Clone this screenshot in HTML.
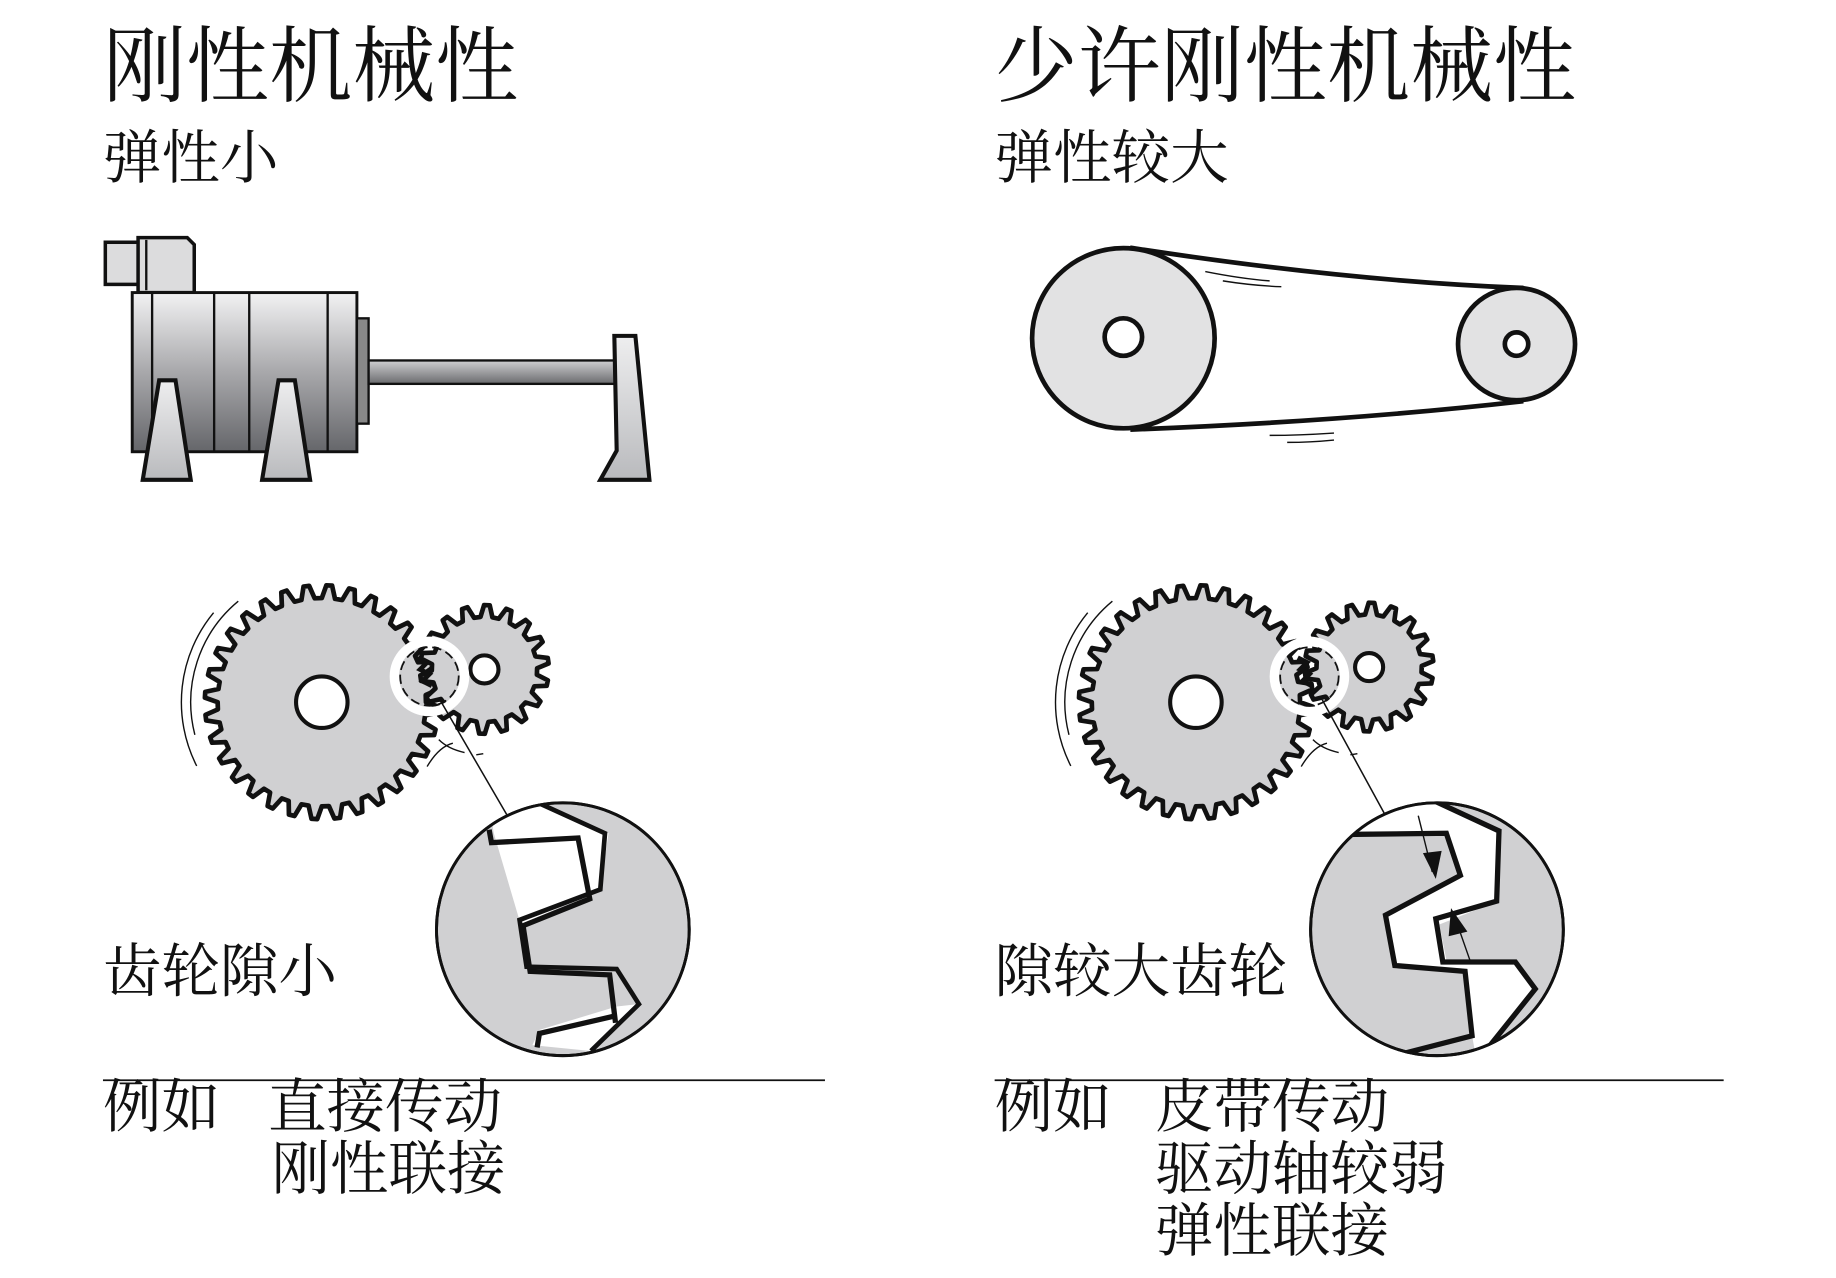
<!DOCTYPE html>
<html><head><meta charset="utf-8"><style>
html,body{margin:0;padding:0;background:#fff;}
svg{display:block;}
text{font-family:"Liberation Serif","Noto Serif CJK SC",serif;fill:#111;}
</style></head><body>
<svg id="s" width="1836" height="1278" viewBox="0 0 1569 1092" preserveAspectRatio="none" xmlns="http://www.w3.org/2000/svg">
<defs>
<linearGradient id="mg" x1="0" y1="0" x2="0" y2="1">
<stop offset="0" stop-color="#f2f2f3"/><stop offset="0.5" stop-color="#a8a8ab"/><stop offset="1" stop-color="#65666a"/></linearGradient>
<linearGradient id="fg" x1="0" y1="0" x2="0" y2="1">
<stop offset="0" stop-color="#eeeeef"/><stop offset="1" stop-color="#b9babd"/></linearGradient>
<linearGradient id="sg" x1="0" y1="0" x2="0" y2="1">
<stop offset="0" stop-color="#d0d0d2"/><stop offset="1" stop-color="#6a6b6e"/></linearGradient>
<clipPath id="cl"><circle cx="481" cy="794" r="107"/></clipPath>
<clipPath id="cr"><circle cx="1228" cy="794" r="107"/></clipPath>
</defs>
<text x="88" y="81" font-size="71">刚性机械性</text>
<text x="88" y="152" font-size="50">弹性小</text>
<text x="850" y="81" font-size="71">少许刚性机械性</text>
<text x="850" y="152" font-size="50">弹性较大</text>

<g stroke="#111" stroke-width="3">
<rect x="90" y="207" width="30" height="36" fill="#dcdcdd"/>
<path d="M118 203 H160 L166 209 V250 H118 Z" fill="#dcdcdd"/>
<line x1="125" y1="205" x2="125" y2="248" stroke-width="2"/>
<rect x="113" y="250" width="192" height="136" fill="url(#mg)" stroke-width="2.5"/>
<line x1="130" y1="250" x2="130" y2="386" stroke-width="2"/>
<line x1="183" y1="250" x2="183" y2="386" stroke-width="2"/>
<line x1="213" y1="250" x2="213" y2="386" stroke-width="2"/>
<line x1="280" y1="250" x2="280" y2="386" stroke-width="2"/>
<rect x="305" y="272" width="10" height="90" fill="#888" stroke-width="2"/>
<rect x="315" y="308" width="212" height="20" fill="url(#sg)" stroke-width="2"/>
<path d="M136 325 H150 L163 410 H122 Z" fill="url(#fg)" stroke-width="3.5"/>
<path d="M238 325 H252 L265 410 H224 Z" fill="url(#fg)" stroke-width="3.5"/>
<path d="M525 287 H543 L555 410 H513 L527 385 Z" fill="url(#fg)" stroke-width="3.5"/>
</g>

<g stroke="#111" stroke-width="4">
<path d="M968 212 Q1150 240 1300 246 L1300 343 Q1150 360 968 367 Z" fill="#fff"/>
<ellipse cx="960" cy="289" rx="78" ry="77" fill="#e2e2e3"/>
<circle cx="960" cy="288" r="16" fill="#fff"/>
<ellipse cx="1296" cy="294" rx="50" ry="48" fill="#e2e2e3"/>
<circle cx="1296" cy="294" r="10" fill="#fff"/>
</g>
<g stroke="#111" stroke-width="1.2" fill="none">
<path d="M1030 232 Q1060 238 1085 240"/><path d="M1045 240 Q1070 244 1095 245"/>
<path d="M1085 372 Q1110 372 1140 370"/><path d="M1100 378 Q1120 378 1140 376"/>
</g>

<g id="gears"></g>

<g>
<line x1="376" y1="598" x2="433" y2="696" stroke="#111" stroke-width="1.3"/>
<circle cx="481" cy="794" r="108" fill="#d0d0d2" stroke="#111" stroke-width="2.5"/>
<g clip-path="url(#cl)">
<path d="M420 700 L463 686 L520 712 L513 760 L445 790 L422 712 Z" fill="#fff"/>
<path d="M455 893 L461 880 L527 860 L545 858 L505 898 Z" fill="#fff"/>
<polyline points="418,709 420,720 494,716 504,768 447,791 453,830 521,833 526,874" fill="none" stroke="#111" stroke-width="4.5"/>
<polyline points="460,686 517,712 513,760 444,786 450,826 527,828 546,858 505,898" fill="none" stroke="#111" stroke-width="4"/>
<polyline points="459,895 461,883 526,868" fill="none" stroke="#111" stroke-width="4.5"/>
</g>
<circle cx="481" cy="794" r="108" fill="none" stroke="#111" stroke-width="2.5"/>
</g>

<g>
<line x1="1130" y1="598" x2="1183" y2="695" stroke="#111" stroke-width="1.3"/>
<circle cx="1228" cy="794" r="108" fill="#d0d0d2" stroke="#111" stroke-width="2.5"/>
<g clip-path="url(#cr)">
<path d="M1155 713 L1180 690 L1227 686 L1282 712 L1280 770 L1230 790 L1236 820 L1295 822 L1312 845 L1270 898 L1260 896 L1258 885 L1253 830 L1193 825 L1183 782 L1248 748 L1236 712 Z" fill="#fff"/>
<polyline points="1150,713 1236,712 1248,748 1184,782 1192,825 1252,830 1258,885 1200,900" fill="none" stroke="#111" stroke-width="4.5"/>
<polyline points="1225,684 1281,710 1279,770 1227,785 1233,822 1295,822 1312,845 1268,900" fill="none" stroke="#111" stroke-width="4.5"/>
</g>
<circle cx="1228" cy="794" r="108" fill="none" stroke="#111" stroke-width="2.5"/>
<line x1="1212" y1="697" x2="1224" y2="745" stroke="#111" stroke-width="1.2"/>
<path d="M1216 729 L1232 727 L1227 751 Z" fill="#111"/>
<line x1="1256" y1="820" x2="1242" y2="780" stroke="#111" stroke-width="1.2"/>
<path d="M1238 800 L1254 796 L1240 776 Z" fill="#111"/>
</g>

<text x="88" y="847" font-size="50">齿轮隙小</text>
<text x="850" y="847" font-size="50">隙较大齿轮</text>
<line x1="88" y1="923" x2="705" y2="923" stroke="#111" stroke-width="1.5"/>
<line x1="850" y1="923" x2="1473" y2="923" stroke="#111" stroke-width="1.5"/>
<text x="88" y="963" font-size="50">例如</text>
<text x="229" y="963" font-size="50">直接传动</text>
<text x="232" y="1016" font-size="50">刚性联接</text>
<text x="850" y="963" font-size="50">例如</text>
<text x="987" y="963" font-size="50">皮带传动</text>
<text x="987" y="1016" font-size="50">驱动轴较弱</text>
<text x="987" y="1069" font-size="50">弹性联接</text>
</svg>
<script>
(function(){
var NS="http://www.w3.org/2000/svg",g=document.getElementById("gears");
function gear(cx,cy,ro,ri,n,rot){
 var d="";
 for(var i=0;i<n;i++){
  var a0=rot+2*Math.PI*i/n,st=2*Math.PI/n;
  var pts=[[ri,a0],[ro,a0+st*0.2],[ro,a0+st*0.45],[ri,a0+st*0.65]];
  pts.forEach(function(p,k){var x=cx+p[0]*Math.cos(p[1]),y=cy+p[0]*Math.sin(p[1]);d+=(i==0&&k==0?"M":"L")+x.toFixed(1)+" "+y.toFixed(1);});
 }
 d+="Z";
 var p=document.createElementNS(NS,"path");p.setAttribute("d",d);p.setAttribute("fill","#d0d0d2");p.setAttribute("stroke","#111");p.setAttribute("stroke-width","4");p.setAttribute("stroke-linejoin","round");g.appendChild(p);
}
function el(t,a){var e=document.createElementNS(NS,t);for(var k in a)e.setAttribute(k,a[k]);g.appendChild(e);return e;}
function set(bx,by,sx,sy,dx,dy){
 gear(bx,by,100,89,32,0);
 el("circle",{cx:bx,cy:by,r:22,fill:"#fff",stroke:"#111","stroke-width":3.5});
 gear(sx,sy,55,45,18,0.1);
 el("circle",{cx:sx,cy:sy,r:12,fill:"#fff",stroke:"#111","stroke-width":3.5});
 el("circle",{cx:dx,cy:dy,r:30,fill:"none",stroke:"#fff","stroke-width":8});
 el("circle",{cx:dx,cy:dy,r:25,fill:"none",stroke:"#111","stroke-width":1.5,"stroke-dasharray":"8 4"});
 el("path",{d:"M"+(dx-10)+" "+(dy-16)+" l8 4 l-6 6 l8 4 l-6 6 l8 4",fill:"none",stroke:"#111","stroke-width":4});
 function arc(r,a1,a2){var x1=bx+r*Math.cos(a1),y1=by+r*Math.sin(a1),x2=bx+r*Math.cos(a2),y2=by+r*Math.sin(a2);
  el("path",{d:"M"+x1+" "+y1+" A"+r+" "+r+" 0 0 1 "+x2+" "+y2,fill:"none",stroke:"#111","stroke-width":1.2});}
 arc(112,Math.PI*0.92,Math.PI*1.28);arc(120,Math.PI*0.85,Math.PI*1.22);
 el("path",{d:"M"+(bx+90)+" "+(by+55)+" Q"+(bx+100)+" "+(by+38)+" "+(bx+112)+" "+(by+35),fill:"none",stroke:"#111","stroke-width":1.2});
 el("path",{d:"M"+(bx+100)+" "+(by+32)+" Q"+(bx+108)+" "+(by+40)+" "+(bx+122)+" "+(by+43)+" M"+(bx+132)+" "+(by+45)+" l6 -1",fill:"none",stroke:"#111","stroke-width":1.2});
}
set(275,600,414,572,367,578);
set(1022,600,1170,570,1119,578);
})();
</script>
</body></html>
